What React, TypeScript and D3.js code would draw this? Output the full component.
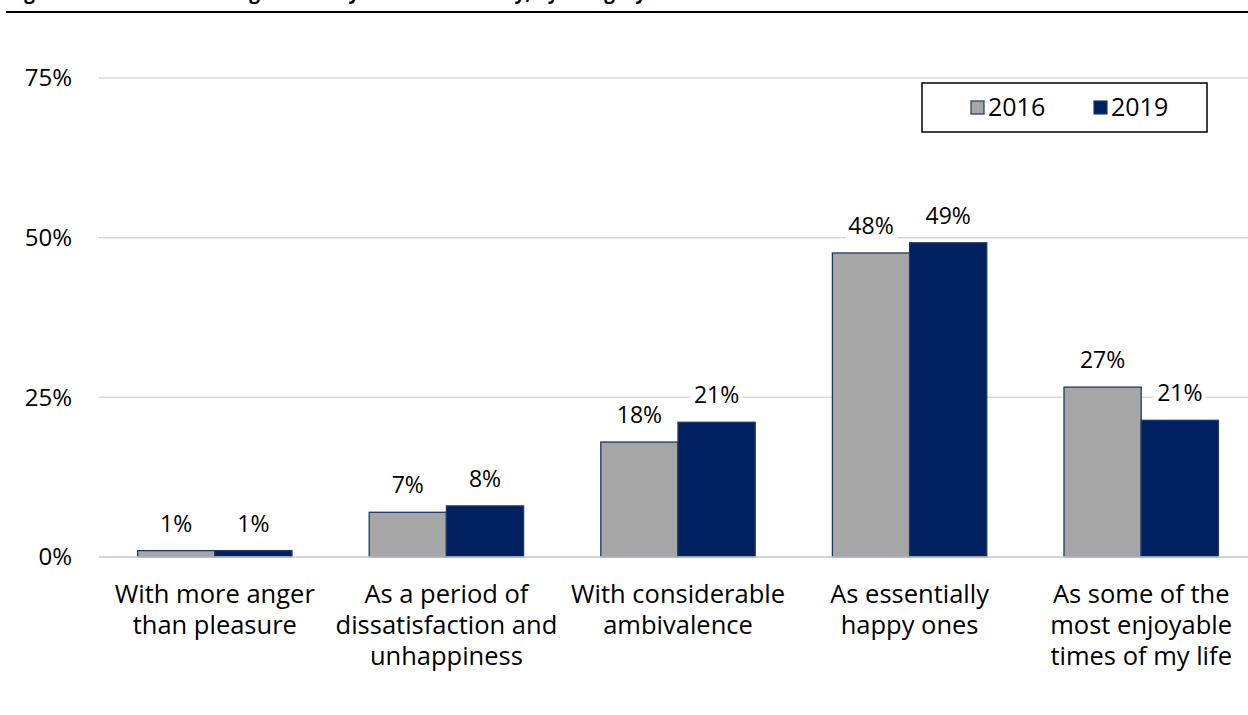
import React from "react";
import * as d3 from "d3";

const categories: string[][] = [
  ["With more anger", "than pleasure"],
  ["As a period of", "dissatisfaction and", "unhappiness"],
  ["With considerable", "ambivalence"],
  ["As essentially", "happy ones"],
  ["As some of the", "most enjoyable", "times of my life"],
];
const seriesNames = ["2016", "2019"];
const values2016 = [1.0, 7.0, 18.0, 47.6, 26.6];
const values2019 = [1.0, 8.0, 21.1, 49.2, 21.4];
const yTicks = [0, 25, 50, 75];
const titleText = "Figure 5: How students regard their years at university, by category";

const W = 1248;
const H = 715;
const FONT = "'Open Sans', Lato, sans-serif";
const colors = ["#A6A6A6", "#002060"];

export default function App() {
  const x0 = 99;
  const x1 = 1257;
  const y = d3.scaleLinear().domain([0, 75]).range([557, 78]);
  const xBand = d3
    .scaleBand<number>()
    .domain(d3.range(categories.length))
    .range([x0, x1])
    .paddingInner(1 / 3)
    .paddingOuter(1 / 6);
  const xSub = d3.scaleBand<number>().domain([0, 1]).range([0, xBand.bandwidth()]);
  const series = [values2016, values2019];
  const fmt = (v: number) => `${Math.round(v)}%`;

  return (
    <svg
      width={W}
      height={H}
      style={{ position: "absolute", left: 0, top: 0, background: "#fff" }}
      fontFamily={FONT}
    >
      <text x={8} y={-1} fontSize={19} fontWeight="bold" fill="#000">
        {titleText}
      </text>
      <line x1={6} x2={W} y1={12} y2={12} stroke="#000" strokeWidth={2.2} />

      {yTicks.map((t) => (
        <g key={t}>
          <line x1={x0} x2={x1} y1={y(t)} y2={y(t)} stroke="#D9D9D9" strokeWidth={1.5} />
          <text x={72} y={y(t)} dy="0.35em" textAnchor="end" fontSize={24} fill="#000">
            {t}%
          </text>
        </g>
      ))}

      {series.map((vals, si) =>
        vals.map((v, ci) => {
          const bx = (xBand(ci) as number) + (xSub(si) as number);
          return (
            <rect
              key={`${si}-${ci}`}
              x={bx}
              y={y(v)}
              width={xSub.bandwidth()}
              height={y(0) - y(v)}
              fill={colors[si]}
              stroke="#1F3864"
              strokeWidth={1.3}
            />
          );
        })
      )}
      <line x1={x0} x2={x1} y1={y(0)} y2={y(0)} stroke="#C9CFDB" strokeWidth={1.5} />

      {series.map((vals, si) =>
        vals.map((v, ci) => {
          const cx = (xBand(ci) as number) + (xSub(si) as number) + xSub.bandwidth() / 2;
          const by = y(v) - 19;
          return (
            <g key={`l-${si}-${ci}`}>
              <rect x={cx - 26} y={by - 20} width={52} height={26} fill="#fff" />
              <text x={cx} y={by} textAnchor="middle" fontSize={23} fill="#000">
                {fmt(v)}
              </text>
            </g>
          );
        })
      )}

      {categories.map((lines, ci) => {
        const cx = (xBand(ci) as number) + xBand.bandwidth() / 2;
        return (
          <text key={ci} textAnchor="middle" fontSize={25.5} fill="#000">
            {lines.map((ln, li) => (
              <tspan key={li} x={cx} y={603 + li * 31}>
                {ln}
              </tspan>
            ))}
          </text>
        );
      })}

      <g>
        <rect x={922} y={83} width={285} height={49} fill="#fff" stroke="#000" strokeWidth={1.5} />
        {seriesNames.map((name, i) => {
          const lx = i === 0 ? 971 : 1094;
          return (
            <g key={name}>
              <rect x={lx} y={101} width={13} height={13} fill={colors[i]} stroke="#1F3864" strokeWidth={1.2} />
              <text x={lx + 17} y={116} fontSize={25} fill="#000">
                {name}
              </text>
            </g>
          );
        })}
      </g>
    </svg>
  );
}
